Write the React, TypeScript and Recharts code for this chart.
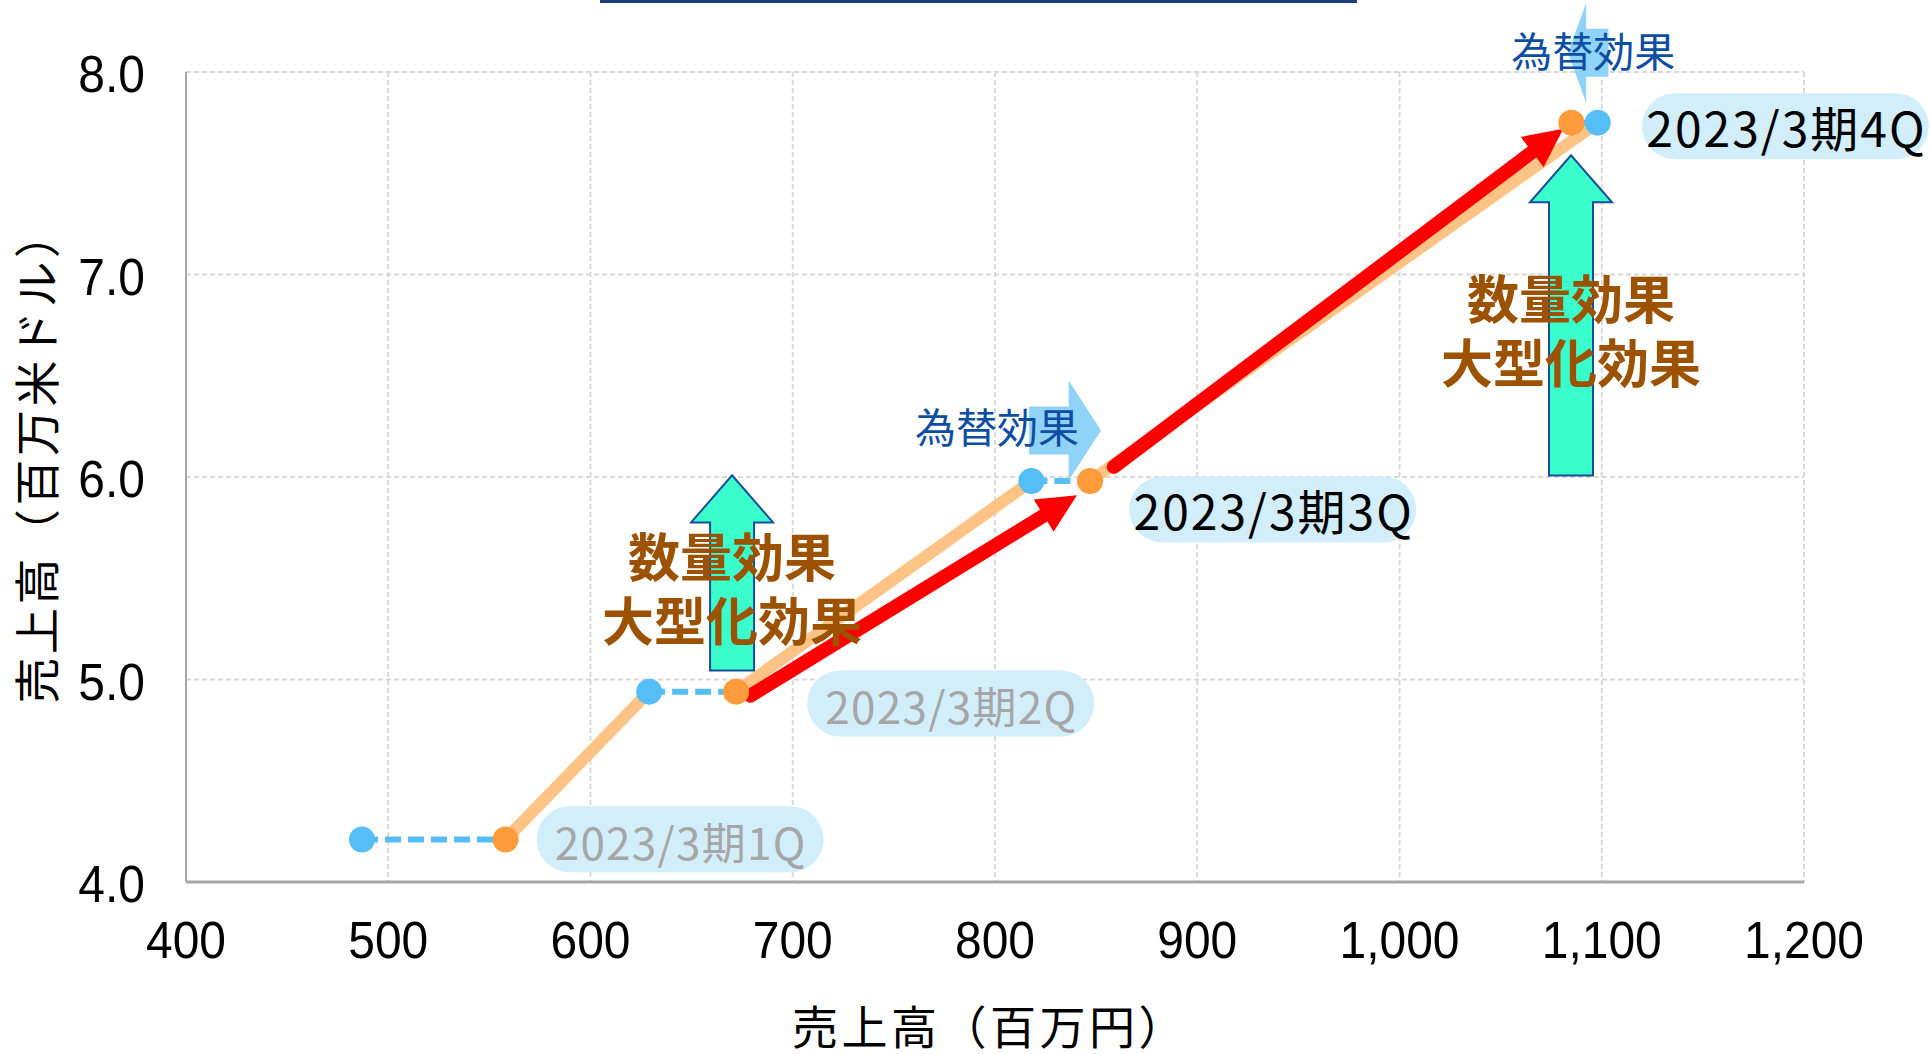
import React from 'react';
import { ScatterChart, Scatter, XAxis, YAxis, CartesianGrid, ReferenceLine, ReferenceDot } from 'recharts';

// 四半期ラベル
const quarters = ['2023/3期1Q', '2023/3期2Q', '2023/3期3Q', '2023/3期4Q'];
// 売上高（百万円）: blue = before FX, orange = after FX
const blueSales = [487, 629, 818, 1098];
const orangeSales = [558, 672, 847, 1085];
// 売上高（百万米ドル）
const usdSales = [4.21, 4.94, 5.98, 7.75];

const xTicks = [400, 500, 600, 700, 800, 900, 1000, 1100, 1200];
const yTicks = [4, 5, 6, 7, 8];

// annotation anchors, in chart units
const redArrowFrom = [[679, 4.92], [858.7, 6.05]];
const redArrowTo = [[840.5, 5.91], [1081, 7.72]];
const volumeArrowX = [670, 1084.8];
const volumeArrowFrom = [5.045, 6.008];
const volumeArrowTo = [6.008, 7.589];
const fxArrowY = [6.23, 8.095];
const fxArrowFrom = [816.9, 1103.3];
const fxArrowTo = [852.4, 1083.3];
const fxTextPos = [[801, 6.24], [1095.8, 8.1]];
const volumeTextPos = [[670, 5.44], [1084.8, 6.715]];
const labelPos = [[644.3, 4.211], [778.1, 4.882], [937.3, 5.84], [1190.8, 7.732]];

const labelColors = ['#A6A6A6', '#A6A6A6', '#000000', '#000000'];
const labelSizes = [44, 44, 48, 48];
const labelSpacing = [1.3, 1.3, 2, 2];

const JP = '"Noto Sans CJK JP", "Noto Sans", sans-serif';
const BLUE = '#56BEF6';
const ORANGE = '#FF9B3A';

const bluePoints = blueSales.map((x, i) => ({ x, y: usdSales[i] }));
const orangePoints = orangeSales.map((x, i) => ({ x, y: usdSales[i] }));
const growthSegments = [0, 1, 2].map((i) => [orangePoints[i], bluePoints[i + 1]]);
const fxSegments = bluePoints.map((p, i) => [p, orangePoints[i]]);

const dot = (color: string) => (p: any) => <circle cx={p.cx} cy={p.cy} r={13} fill={color} />;

const XTick = (p: any) => (
  <text
    transform={`translate(${p.x},${p.y + 76}) scale(0.94,1)`}
    textAnchor="middle"
    fontFamily="Liberation Sans, Arial, sans-serif"
    fontSize={51}
    fill="#000"
  >
    {Number(p.payload.value).toLocaleString('en-US')}
  </text>
);

const YTick = (p: any) => (
  <text
    transform={`translate(${p.x - 41},${p.y + 20}) scale(0.94,1)`}
    textAnchor="end"
    fontFamily="Liberation Sans, Arial, sans-serif"
    fontSize={51}
    fill="#000"
  >
    {Number(p.payload.value).toFixed(1)}
  </text>
);

const RedArrow = (p: any) => {
  const { x1, y1, x2, y2 } = p;
  const dx = x2 - x1;
  const dy = y2 - y1;
  const len = Math.sqrt(dx * dx + dy * dy);
  const ux = dx / len;
  const uy = dy / len;
  const head = 39;
  const half = 19;
  const bx = x2 - ux * head;
  const by = y2 - uy * head;
  return (
    <g>
      <line x1={x1} y1={y1} x2={bx + ux * 4} y2={by + uy * 4} stroke="#FF0000" strokeWidth={14} strokeLinecap="round" />
      <polygon
        points={`${x2},${y2} ${bx - uy * half},${by + ux * half} ${bx + uy * half},${by - ux * half}`}
        fill="#FF0000"
      />
    </g>
  );
};

const GreenArrow = (p: any) => {
  const x = p.x1;
  const yb = Math.max(p.y1, p.y2);
  const yt = Math.min(p.y1, p.y2);
  const hb = yt + 47;
  const pts = [
    [x - 22, yb], [x + 22, yb], [x + 22, hb], [x + 41, hb], [x, yt], [x - 41, hb], [x - 22, hb],
  ].map((q) => q.join(',')).join(' ');
  return <polygon points={pts} fill="#3AFFCC" stroke="#1A4C9C" strokeWidth={2} />;
};

const FxArrow = (p: any) => {
  const { x1, x2 } = p;
  const y = p.y1;
  const s = x2 > x1 ? 1 : -1;
  const head = Math.min(36, Math.abs(x2 - x1) * 0.45);
  const b = x2 - s * head;
  const pts = [
    [x1, y - 24], [b, y - 24], [b, y - 50], [x2, y], [b, y + 50], [b, y + 24], [x1, y + 24],
  ].map((q) => q.join(',')).join(' ');
  return <polygon points={pts} fill="#8FD3F9" />;
};

const FxText = (p: any) => (
  <text x={p.cx} y={p.cy + 15} textAnchor="middle" fontFamily={JP} fontSize={41} fill="#0D4EA3">
    為替効果
  </text>
);

const VolumeText = (p: any) => (
  <g fontFamily={JP} fontSize={52} fontWeight={700} fill="#9C5200" textAnchor="middle">
    <text x={p.cx} y={p.cy - 32 + 19}>数量効果</text>
    <text x={p.cx} y={p.cy + 32 + 19}>大型化効果</text>
  </g>
);

const pill = (i: number) => (p: any) => (
  <g>
    <rect x={p.cx - 143.5} y={p.cy - 33} width={287} height={66} rx={33} fill="#D3EEFB" />
    <text
      x={p.cx + labelSpacing[i] / 2}
      y={p.cy + 21}
      textAnchor="middle"
      fontFamily={JP}
      fontSize={labelSizes[i]}
      letterSpacing={labelSpacing[i]}
      fill={labelColors[i]}
    >
      {quarters[i]}
    </text>
  </g>
);

export default function App() {
  return (
    <div style={{ position: 'absolute', left: 0, top: 0, width: 1930, height: 1054, background: '#fff', overflow: 'hidden' }}>
      <div style={{ position: 'absolute', left: 600, top: 0, width: 757, height: 3, background: '#1F3C7E' }} />
      <ScatterChart width={1930} height={1054} margin={{ top: 72, right: 126, bottom: 112, left: 86 }}>
        <CartesianGrid stroke="#D9D9D9" strokeDasharray="5 3" strokeWidth={2} />
        <XAxis
          type="number"
          dataKey="x"
          domain={[400, 1200]}
          ticks={xTicks}
          interval={0}
          height={60}
          tickLine={false}
          tickSize={0}
          tickMargin={0}
          axisLine={{ stroke: '#A6A6A6', strokeWidth: 3 }}
          tick={<XTick />}
        />
        <YAxis
          type="number"
          dataKey="y"
          domain={[4, 8]}
          ticks={yTicks}
          interval={0}
          width={100}
          tickLine={false}
          tickSize={0}
          tickMargin={0}
          axisLine={{ stroke: '#A6A6A6', strokeWidth: 2 }}
          tick={<YTick />}
        />
        {growthSegments.map((seg, i) => (
          <ReferenceLine
            key={`g${i}`}
            segment={[{ x: seg[0].x, y: seg[0].y }, { x: seg[1].x, y: seg[1].y }]}
            stroke="#FFC386"
            strokeWidth={12}
          />
        ))}
        {fxSegments.map((seg, i) => (
          <ReferenceLine
            key={`f${i}`}
            segment={[{ x: seg[0].x, y: seg[0].y }, { x: seg[1].x, y: seg[1].y }]}
            stroke={BLUE}
            strokeWidth={6}
            strokeDasharray="16 7"
          />
        ))}
        {volumeArrowX.map((x, i) => (
          <ReferenceLine
            key={`va${i}`}
            segment={[{ x, y: volumeArrowFrom[i] }, { x, y: volumeArrowTo[i] }]}
            shape={GreenArrow}
            ifOverflow="visible"
          />
        ))}
        {redArrowFrom.map((f, i) => (
          <ReferenceLine
            key={`ra${i}`}
            segment={[{ x: f[0], y: f[1] }, { x: redArrowTo[i][0], y: redArrowTo[i][1] }]}
            shape={RedArrow}
            ifOverflow="visible"
          />
        ))}
        {fxArrowY.map((y, i) => (
          <ReferenceLine
            key={`fa${i}`}
            segment={[{ x: fxArrowFrom[i], y }, { x: fxArrowTo[i], y }]}
            shape={FxArrow}
            ifOverflow="visible"
          />
        ))}
        <Scatter data={bluePoints} shape={dot(BLUE)} isAnimationActive={false} />
        <Scatter data={orangePoints} shape={dot(ORANGE)} isAnimationActive={false} />
        {volumeTextPos.map((p, i) => (
          <ReferenceDot key={`vt${i}`} x={p[0]} y={p[1]} r={0} ifOverflow="visible" shape={VolumeText} />
        ))}
        {fxTextPos.map((p, i) => (
          <ReferenceDot key={`ft${i}`} x={p[0]} y={p[1]} r={0} ifOverflow="visible" shape={FxText} />
        ))}
        {labelPos.map((p, i) => (
          <ReferenceDot key={`lb${i}`} x={p[0]} y={p[1]} r={0} ifOverflow="visible" shape={pill(i)} />
        ))}
      </ScatterChart>
      <div
        style={{
          position: 'absolute', left: 33.5, top: 456, transform: 'translate(-50%, -50%) rotate(-90deg)',
          whiteSpace: 'nowrap', fontFamily: JP, fontSize: 46, letterSpacing: 3.5, lineHeight: 1, color: '#000',
        }}
      >
        売上高（百万米ドル）
      </div>
      <div
        style={{
          position: 'absolute', left: 990, top: 1024, transform: 'translate(-50%, -50%)',
          whiteSpace: 'nowrap', fontFamily: JP, fontSize: 46, letterSpacing: 3.5, lineHeight: 1, color: '#000',
        }}
      >
        売上高（百万円）
      </div>
    </div>
  );
}
